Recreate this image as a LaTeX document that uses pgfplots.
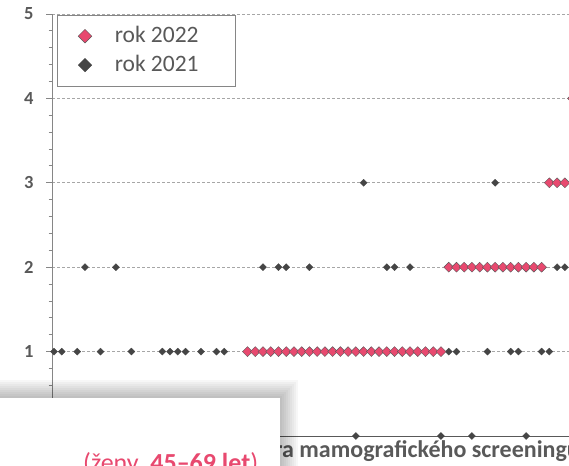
\documentclass[border=0pt]{standalone}
\usepackage{fontspec}
\setmainfont{Carlito}
\usepackage{pgfplots}
\pgfplotsset{compat=1.18}
\definecolor{pinkmark}{HTML}{E8496F}
\definecolor{darkmark}{HTML}{454545}
\definecolor{txtgray}{HTML}{595959}
\definecolor{gridgray}{HTML}{A6A6A6}
\definecolor{axgray}{HTML}{868686}
\begin{document}
\begin{tikzpicture}
\begin{axis}[
  at={(52pt,29pt)}, anchor=south west,
  scale only axis, width=517pt, height=422pt,
  xmin=-0.258, xmax=66.54, ymin=0, ymax=5,
  axis x line=bottom, axis y line=left, axis line style={-},
  x axis line style={draw=txtgray, line width=0.9pt},
  y axis line style={draw=axgray, line width=0.9pt},
  xtick=\empty,
  ytick={0,1,2,3,4,5}, minor y tick num=4,
  tick align=outside, major tick length=6pt, minor tick length=3.5pt,
  tick style={axgray, line width=0.9pt},
  ymajorgrids, grid style={gridgray, dash pattern=on 3pt off 2pt, line width=0.7pt},
  clip=false,
  /pgf/number format/assume math mode=true,
  yticklabel style={font=\bfseries\fontsize{18.5}{18.5}\selectfont, text=txtgray, xshift=-9pt},
  legend style={at={(0.0097,0.9976)}, anchor=north west, draw=axgray, fill=white,
    font=\fontsize{23.5}{23.5}\selectfont, text=txtgray, inner xsep=21pt, inner ysep=10pt,
    row sep=7pt, nodes={text height=15pt, text depth=3pt},
    /tikz/every odd column/.append style={column sep=21pt}},
  legend image post style={mark size=4.8pt},
  legend cell align=left,
  reverse legend,
]
% rok 2021
\addplot[only marks, mark=square*, mark size=2.5pt,
  mark options={rotate=45, fill=darkmark, draw=darkmark, line width=0.3pt}] coordinates {
(0,1)(1,1)(2,0)(3,1)(4,2)(5,0)(6,1)(7,0)(8,2)(9,0)(10,1)(11,0)(12,0)(13,0)(14,1)
(15,1)(16,1)(17,1)(18,0)(19,1)(20,0)(21,1)(22,1)(23,0)(24,0)(25,1)(26,1)(27,2)
(28,1)(29,2)(30,2)(31,1)(32,1)(33,2)(34,1)(35,1)(36,1)(37,1)(38,1)(39,0)(40,3)
(41,1)(42,1)(43,2)(44,2)(45,1)(46,2)(47,1)(48,1)(49,1)(50,0)(51,1)(52,1)(53,2)
(54,0)(55,2)(56,1)(57,3)(58,2)(59,1)(60,1)(61,0)(62,2)(63,1)(64,1)(65,2)(66,2)
};
\addlegendentry{\makebox[97pt][l]{rok 2021}}
% rok 2022
\addplot[only marks, mark=square*, mark size=3.5pt,
  mark options={rotate=45, fill=pinkmark, draw=black!65, line width=0.4pt}] coordinates {
(0,0)(1,0)(2,0)(3,0)(4,0)(5,0)(6,0)(7,0)(8,0)(9,0)(10,0)(11,0)(12,0)(13,0)(14,0)
(15,0)(16,0)(17,0)(18,0)(19,0)(20,0)(21,0)(22,0)(23,0)(24,0)
(25,1)(26,1)(27,1)(28,1)(29,1)(30,1)(31,1)(32,1)(33,1)(34,1)(35,1)(36,1)(37,1)
(38,1)(39,1)(40,1)(41,1)(42,1)(43,1)(44,1)(45,1)(46,1)(47,1)(48,1)(49,1)(50,1)
(51,2)(52,2)(53,2)(54,2)(55,2)(56,2)(57,2)(58,2)(59,2)(60,2)(61,2)(62,2)(63,2)
(64,3)(65,3)(66,3)(67,4)
};
\addlegendentry{\makebox[97pt][l]{rok 2022}}
\end{axis}
% x axis title (partly hidden behind the overlay box)
\node[anchor=base west, inner sep=0pt, text=txtgray,
  font=\bfseries\fontsize{24}{24}\selectfont] at (274pt,8pt) {ra mamografického screeningu};
% soft shadow of the overlay box
\foreach \k in {0,...,11} {
  \fill[black, opacity=0.03] (-30pt,-30pt) rectangle ({298pt-2pt*\k},{85pt-2pt*\k});
}
\fill[white] (-5pt,-5pt) rectangle (280pt,67pt);
\node[anchor=base west, inner sep=0pt, text=pinkmark,
  font=\fontsize{26}{26}\selectfont] at (83pt,-6pt) {(ženy\ \ \textbf{45–69 let})};
\pgfresetboundingbox
\path[use as bounding box] (0pt,0pt) rectangle (569pt,465pt);
\end{tikzpicture}
\end{document}
